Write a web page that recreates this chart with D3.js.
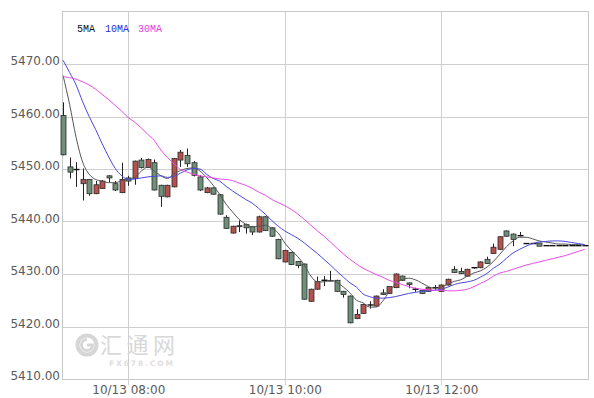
<!DOCTYPE html>
<html>
<head>
<meta charset="utf-8">
<script src="https://cdn.jsdelivr.net/npm/d3@7"></script>
<style>
  body { margin: 0; background: #fff; }
  svg { display: block; }
</style>
</head>
<body>
<svg width="594" height="398"></svg>
<script>
// 5 minute candles, 10/13 07:10 -> 13:50
var firstTime = new Date(2017, 9, 13, 7, 10);
var stepMin = 5;

var opens = [5460.2, 5450.4, 5449.9, 5447.2, 5448.0, 5445.3, 5446.3, 5448.7, 5447.2, 5445.5,
  5448.3, 5448.2, 5451.7, 5450.3, 5451.2, 5446.9, 5444.7, 5446.6, 5451.7, 5452.6,
  5451.2, 5448.5, 5445.5, 5446.4, 5445.1, 5440.8, 5437.8, 5439.2, 5439.4, 5439.0,
  5438.0, 5440.9, 5438.8, 5436.6, 5432.3, 5434.1, 5432.4, 5431.9, 5424.8, 5427.1,
  5428.8, 5428.7, 5428.8, 5426.7, 5425.8, 5421.5, 5422.5, 5424.1, 5423.9, 5426.4,
  5426.3, 5427.4, 5429.6, 5428.3, 5427.1, 5426.9, 5426.7, 5427.4, 5426.7, 5427.9,
  5430.9, 5430.5, 5429.6, 5431.2, 5431.2, 5432.8, 5433.9, 5434.7, 5438.2, 5437.6,
  5437.3, 5435.8, 5435.8, 5435.9, 5435.4, 5435.4, 5435.4, 5435.4, 5435.4, 5435.4, 5435.4];
var highs = [5462.7, 5452.2, 5451.3, 5450.1, 5448.1, 5447.7, 5447.9, 5448.8, 5447.7, 5451.2,
  5448.7, 5451.6, 5452.1, 5452.0, 5451.8, 5447.0, 5447.0, 5452.1, 5453.6, 5453.9,
  5451.5, 5448.8, 5446.6, 5446.5, 5445.2, 5441.2, 5439.2, 5440.2, 5439.6, 5439.1,
  5441.1, 5441.0, 5438.9, 5436.7, 5434.6, 5434.2, 5432.5, 5432.0, 5427.2, 5429.5,
  5429.6, 5430.6, 5428.9, 5426.8, 5425.9, 5423.3, 5424.3, 5424.8, 5425.9, 5427.1,
  5427.7, 5430.1, 5429.7, 5428.4, 5427.4, 5427.0, 5427.5, 5427.9, 5428.0, 5429.1,
  5431.5, 5431.2, 5431.0, 5431.3, 5432.4, 5433.3, 5435.8, 5437.2, 5438.3, 5437.7,
  5438.0, 5435.8, 5435.8, 5435.9, 5435.4, 5435.4, 5435.4, 5435.4, 5435.4, 5435.4, 5435.4];
var lows = [5452.6, 5448.2, 5446.6, 5444.0, 5444.9, 5445.2, 5446.2, 5447.5, 5445.8, 5445.4,
  5446.8, 5447.0, 5450.1, 5450.2, 5445.9, 5442.8, 5444.6, 5446.5, 5450.4, 5450.4,
  5448.6, 5445.8, 5445.4, 5445.1, 5441.3, 5438.6, 5437.7, 5438.0, 5437.7, 5437.4,
  5437.9, 5438.2, 5437.1, 5432.8, 5432.2, 5431.7, 5431.1, 5425.1, 5424.7, 5427.0,
  5427.7, 5428.6, 5426.6, 5425.5, 5420.6, 5421.4, 5422.4, 5423.4, 5423.8, 5426.0,
  5426.2, 5427.3, 5428.7, 5427.3, 5426.6, 5426.2, 5426.6, 5427.0, 5426.6, 5427.8,
  5430.2, 5430.0, 5429.5, 5431.0, 5431.1, 5431.9, 5433.8, 5434.6, 5437.1, 5435.3,
  5437.2, 5435.8, 5435.8, 5435.3, 5435.4, 5435.4, 5435.4, 5435.4, 5435.4, 5435.4, 5435.4];
var closes = [5452.7, 5449.4, 5449.9, 5448.0, 5445.3, 5447.0, 5447.7, 5448.3, 5446.0, 5448.0,
  5447.7, 5451.5, 5450.3, 5451.8, 5446.0, 5444.8, 5446.9, 5452.0, 5453.2, 5451.0,
  5448.8, 5446.0, 5446.4, 5445.2, 5441.4, 5438.7, 5439.1, 5439.1, 5438.8, 5438.0,
  5440.9, 5438.3, 5437.2, 5432.9, 5434.5, 5431.8, 5431.6, 5425.2, 5427.1, 5428.6,
  5428.8, 5428.7, 5426.7, 5426.1, 5420.7, 5422.3, 5424.2, 5424.1, 5425.8, 5426.1,
  5427.6, 5430.0, 5428.8, 5428.0, 5427.1, 5426.3, 5427.4, 5427.4, 5427.9, 5429.0,
  5430.3, 5430.1, 5430.9, 5431.2, 5432.3, 5432.0, 5435.1, 5437.1, 5437.2, 5436.6,
  5437.3, 5435.8, 5435.8, 5435.3, 5435.4, 5435.4, 5435.4, 5435.4, 5435.4, 5435.4, 5435.4];

// moving averages as drawn on the chart
var ma5 = [5467.8, 5462.3, 5456.0, 5451.3, 5449.0, 5448.0, 5447.7, 5447.4, 5447.4, 5447.8,
  5448.1, 5448.4, 5449.6, 5450.4, 5449.6, 5448.7, 5448.2, 5449.1, 5449.7, 5450.1,
  5450.2, 5449.6, 5448.4, 5446.9, 5445.2, 5443.3, 5441.8, 5440.4, 5439.5, 5439.0,
  5439.1, 5439.3, 5438.7, 5437.8, 5435.9, 5434.5, 5433.3, 5431.7, 5429.6, 5428.5,
  5428.5, 5428.8, 5428.4, 5427.5, 5426.4, 5425.0, 5424.5, 5423.7, 5423.7, 5424.8,
  5426.6, 5428.1, 5429.0, 5429.2, 5428.9, 5428.3, 5427.6, 5427.3, 5427.5, 5428.1,
  5428.6, 5428.9, 5429.6, 5430.2, 5430.6, 5431.3, 5432.4, 5433.8, 5435.2, 5436.3,
  5437.0, 5437.0, 5436.7, 5436.3, 5436.1, 5435.9, 5435.7, 5435.7, 5435.6, 5435.6, 5435.5];
var ma10 = [5470.7, 5468.4, 5466.0, 5462.8, 5460.0, 5457.5, 5454.8, 5452.3, 5450.1, 5448.7,
  5448.0, 5448.1, 5448.3, 5448.5, 5448.6, 5448.7, 5448.4, 5448.6, 5449.2, 5449.8,
  5450.1, 5450.0, 5449.0, 5448.2, 5447.7, 5446.7, 5445.8, 5445.0, 5444.2, 5443.5,
  5442.5, 5441.4, 5440.2, 5439.1, 5438.2, 5437.5, 5436.8, 5435.9, 5434.9, 5433.9,
  5432.8, 5431.7, 5430.5, 5429.4, 5428.3, 5427.5, 5426.2, 5425.7, 5425.4, 5425.4,
  5425.5, 5425.7, 5426.0, 5426.3, 5426.5, 5426.7, 5426.8, 5426.9, 5427.1, 5427.5,
  5428.0, 5428.3, 5428.5, 5428.8, 5429.4, 5430.1, 5431.1, 5431.9, 5433.0, 5434.0,
  5434.7, 5435.3, 5435.8, 5436.1, 5436.2, 5436.3, 5436.3, 5436.2, 5436.0, 5435.8, 5435.6];
var ma30 = [5467.6, 5467.4, 5467.1, 5466.6, 5466.0, 5465.2, 5464.2, 5463.2, 5462.1, 5461.0,
  5459.8, 5458.9, 5457.8, 5456.6, 5455.4, 5453.6, 5452.2, 5451.0, 5449.9, 5449.4,
  5449.0, 5448.7, 5448.5, 5448.3, 5448.1, 5448.0, 5447.8, 5447.3, 5446.9, 5446.3,
  5445.6, 5445.0, 5444.2, 5443.6, 5443.0, 5442.3, 5441.4, 5440.4, 5439.3, 5438.2,
  5437.2, 5436.1, 5434.9, 5433.8, 5432.8, 5431.9, 5431.1, 5430.5, 5429.9, 5429.4,
  5428.8, 5428.4, 5428.0, 5427.6, 5427.3, 5427.1, 5427.0, 5426.9, 5426.9, 5426.8,
  5426.8, 5426.9, 5427.1, 5427.6, 5428.2, 5428.8, 5429.6, 5430.2, 5430.5, 5430.9,
  5431.3, 5431.7, 5432.0, 5432.3, 5432.6, 5432.9, 5433.2, 5433.5, 5433.9, 5434.3, 5434.7];

var yTicks = [5410, 5420, 5430, 5440, 5450, 5460, 5470];
var xTicks = [new Date(2017, 9, 13, 8, 0), new Date(2017, 9, 13, 10, 0), new Date(2017, 9, 13, 12, 0)];
var legendNames = ['5MA', '10MA', '30MA'];
var legendColors = ['#111', '#2b2bd6', '#e03ce0'];

var upColor = '#b5524e', downColor = '#6f8f7a';

// plot box (note: "top" is a reserved global in browsers)
var plotL = 62, plotR = 588, plotT = 11.5, plotB = 379;
var svg = d3.select('svg');

var times = closes.map(function(d, i) { return d3.timeMinute.offset(firstTime, i * stepMin); });

var x = d3.scaleTime()
  .domain([new Date(2017, 9, 13, 7, 9, 10), new Date(2017, 9, 13, 13, 52, 30)])
  .range([plotL, plotR]);
var y = d3.scaleLinear().domain([5410, 5480]).range([plotB, plotT]);

// grid
var grid = svg.append('g').attr('stroke', '#cfcfcf').attr('stroke-width', 1);
grid.selectAll('line.h').data(yTicks).enter().append('line')
  .attr('x1', plotL).attr('x2', plotR)
  .attr('y1', function(d) { return Math.round(y(d)) + 0.5; })
  .attr('y2', function(d) { return Math.round(y(d)) + 0.5; });
grid.selectAll('line.v').data(xTicks).enter().append('line')
  .attr('x1', function(d) { return Math.round(x(d)) + 0.5; })
  .attr('x2', function(d) { return Math.round(x(d)) + 0.5; })
  .attr('y1', plotT).attr('y2', plotB + 6);
svg.append('rect')
  .attr('x', plotL + 0.5).attr('y', plotT).attr('width', plotR - plotL).attr('height', plotB - plotT + 0.5)
  .attr('fill', 'none').attr('stroke', '#c8c8c8');

// axes (labels only)
var yAxis = d3.axisLeft(y).tickValues(yTicks).tickSize(0).tickPadding(2).tickFormat(d3.format('.2f'));
var gy = svg.append('g').attr('transform', 'translate(' + plotL + ',0)').call(yAxis);
var xAxis = d3.axisBottom(x).tickValues(xTicks).tickSize(0).tickPadding(6).tickFormat(d3.timeFormat('%m/%d %H:%M'));
var gx = svg.append('g').attr('transform', 'translate(0,' + plotB + ')').call(xAxis);
[gy, gx].forEach(function(g) {
  g.select('.domain').remove();
  g.selectAll('text').attr('fill', '#5a5a5a').style('font-family', 'DejaVu Sans').style('font-size', '12px');
});
gy.selectAll('text').attr('dy', '0.08em');

// watermark
var wm = svg.append('g');
wm.append('circle').attr('cx', 87).attr('cy', 345).attr('r', 9.5).attr('fill', 'none')
  .attr('stroke', '#d6d6d6').attr('stroke-width', 4);
wm.append('path').attr('d', 'M87,339.5 a5.5,5.5 0 1,0 5.5,5.5 l-5.5,0').attr('fill', 'none')
  .attr('stroke', '#d6d6d6').attr('stroke-width', 3);
wm.append('text').attr('x', 100).attr('y', 353).attr('textLength', 75)
  .style('font-family', 'Noto Sans CJK SC').style('font-size', '22px').attr('fill', '#d8d8d8').text('汇通网');
wm.append('text').attr('x', 109).attr('y', 366).attr('textLength', 64)
  .style('font-family', 'DejaVu Sans').style('font-size', '7.5px').style('font-weight', 'bold')
  .attr('fill', '#dedede').text('FX678.COM');

// candles
var idx = d3.range(closes.length);
var cx = function(i) { return Math.round(x(times[i])) + 0.5; };
var candles = svg.append('g');
candles.selectAll('line.wick').data(idx).enter().append('line')
  .attr('x1', cx).attr('x2', cx)
  .attr('y1', function(i) { return y(highs[i]); })
  .attr('y2', function(i) { return y(lows[i]); })
  .attr('stroke', '#222').attr('stroke-width', 1);
candles.selectAll('rect').data(idx.filter(function(i) { return opens[i] !== closes[i]; })).enter().append('rect')
  .attr('x', function(i) { return cx(i) - 2.5; })
  .attr('y', function(i) { return y(Math.max(opens[i], closes[i])); })
  .attr('width', 5)
  .attr('height', function(i) { return Math.max(1, Math.abs(y(opens[i]) - y(closes[i]))); })
  .attr('fill', function(i) { return closes[i] > opens[i] ? upColor : downColor; })
  .attr('stroke', '#2a2a2a').attr('stroke-width', 0.8);
candles.selectAll('line.doji').data(idx.filter(function(i) { return opens[i] === closes[i]; })).enter().append('line')
  .attr('x1', function(i) { return cx(i) - 3; })
  .attr('x2', function(i) { return cx(i) + 3; })
  .attr('y1', function(i) { return y(closes[i]); })
  .attr('y2', function(i) { return y(closes[i]); })
  .attr('stroke', '#111').attr('stroke-width', 1.4);

// moving average lines
[ma5, ma10, ma30].forEach(function(series, k) {
  var line = d3.line()
    .x(function(d, i) { return x(times[i]); })
    .y(function(d) { return y(d); })
    .curve(d3.curveMonotoneX);
  svg.append('path').datum(series)
    .attr('d', line)
    .attr('fill', 'none')
    .attr('stroke', ['#555', '#4848e0', '#e84ce8'][k])
    .attr('stroke-width', 1);
});

// legend
var legendX = [77, 105, 138];
svg.selectAll('text.legend').data(legendNames).enter().append('text')
  .attr('x', function(d, i) { return legendX[i]; })
  .attr('y', 32)
  .attr('fill', function(d, i) { return legendColors[i]; })
  .style('font-family', 'Liberation Mono').style('font-size', '10px')
  .text(function(d) { return d; });
</script>
</body>
</html>
